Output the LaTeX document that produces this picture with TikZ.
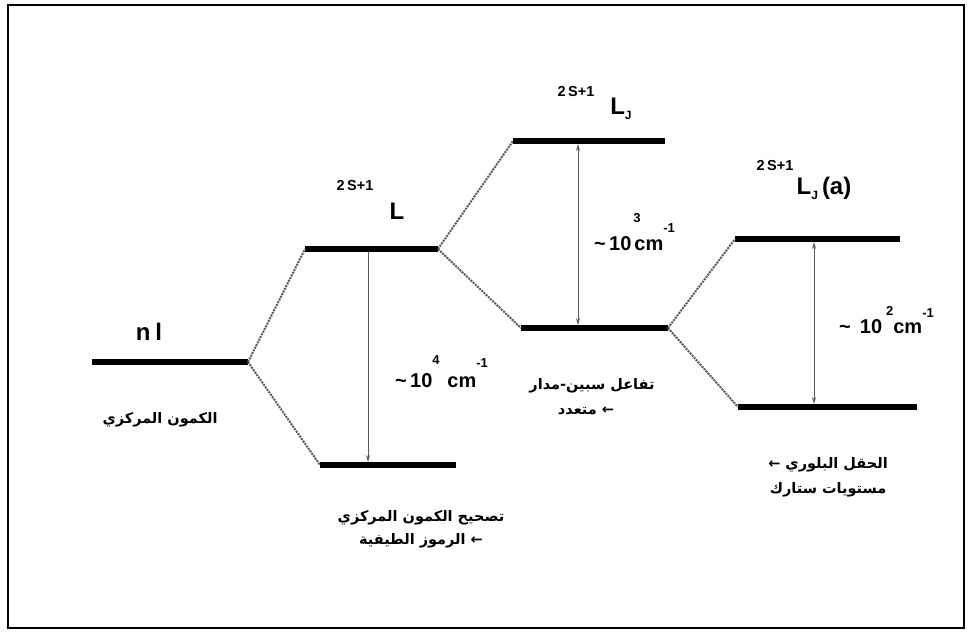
\documentclass[tikz,border=0pt]{standalone}
\usepackage{fontspec}
\setmainfont{Liberation Sans}
\newfontfamily\arabicfont[Script=Arabic]{DejaVu Sans}
\TeXXeTstate=1
\usetikzlibrary{arrows.meta}

\tikzset{
  level/.style={line width=5.5pt, line cap=butt},
  link/.style={densely dotted, line width=2pt, black!65},
  gaparrow/.style={line width=0.9pt, black!65, -{Stealth[length=7pt,width=4pt]}},
  gapboth/.style={line width=0.9pt, black!65, {Stealth[length=7pt,width=4pt]}-{Stealth[length=7pt,width=4pt]}},
  arlabel/.style={font=\arabicfont\bfseries\fontsize{14.5}{17}\selectfont, inner sep=0pt},
  mult/.style={font=\bfseries\fontsize{14.5}{16}\selectfont, inner sep=0pt},
  term/.style={font=\bfseries\fontsize{24}{26}\selectfont, inner sep=0pt},
  gaplabel/.style={font=\bfseries\fontsize{20}{22}\selectfont, inner sep=0pt, anchor=base west},
}
\newcommand\supfig[2]{\raisebox{#1}{\fontsize{13}{14}\selectfont #2}}
\newcommand\subJ{\raisebox{-5pt}{\fontsize{12}{13}\selectfont J}}

\begin{document}
\begin{tikzpicture}[x=1pt,y=-1pt]
  \useasboundingbox (0,0) rectangle (970,633);
  % outer frame
  \draw[line width=1.2pt] (8,5) rectangle (964,628);

  % energy levels
  \coordinate (nlA) at (92,362);   \coordinate (nlB) at (248,362);
  \coordinate (LA)  at (305,249);  \coordinate (LB)  at (438,249);
  \coordinate (CA)  at (320,465);  \coordinate (CB)  at (456,465);
  \coordinate (JuA) at (513,141);  \coordinate (JuB) at (665,141);
  \coordinate (JlA) at (521,328);  \coordinate (JlB) at (668,328);
  \coordinate (SuA) at (735,239);  \coordinate (SuB) at (900,239);
  \coordinate (SlA) at (738,407);  \coordinate (SlB) at (917,407);

  \foreach \a/\b in {nlA/nlB, LA/LB, CA/CB, JuA/JuB, JlA/JlB, SuA/SuB, SlA/SlB}
    \draw[level] (\a) -- (\b);

  % dotted correlation lines
  \draw[link] (nlB) -- (LA);
  \draw[link] (nlB) -- (CA);
  \draw[link] (LB) -- (JuA);
  \draw[link] (LB) -- (JlA);
  \draw[link] (JlB) -- (SuA);
  \draw[link] (JlB) -- (SlA);

  % splitting arrows
  \coordinate (g1a) at (368,252); \coordinate (g1b) at (368,462);
  \coordinate (g2a) at (578,144); \coordinate (g2b) at (578,325);
  \coordinate (g3a) at (814,242); \coordinate (g3b) at (814,404);
  \draw[gaparrow] (g1a) -- (g1b);
  \draw[gapboth] (g2a) -- (g2b);
  \draw[gapboth] (g3a) -- (g3b);

  % term symbols
  \node[term] (nl) at (149,332) {n\hspace{5pt}l};
  \node[mult] (m1) at (355,186) {2\,S+1};
  \node[term] (t1) at (397,211) {L};
  \node[mult] (m2) at (576,92) {2\,S+1};
  \node[term] (t2) at (621,109) {L\subJ};
  \node[mult] (m3) at (775,166) {2\,S+1};
  \node[term] (t3) at (824,188) {L\subJ\,(a)};

  % gap sizes
  \node[gaplabel] (e1) at (395,387) {\char"007E\,10\rlap{\supfig{23pt}{4}}\hspace{15pt}cm\supfig{20pt}{-1}};
  \node[gaplabel] (e2) at (594,250) {\char"007E\,10\rlap{\hspace{2pt}\supfig{28pt}{3}}\hspace{3pt}cm\supfig{18pt}{-1}};
  \node[gaplabel] (e3) at (839,333) {\char"007E\hspace{9pt}10\hspace{4pt}\supfig{18pt}{2}cm\supfig{16pt}{-1}};

  % Arabic captions
  \node[arlabel] (c1) at (160,420) {\beginR الكمون المركزي\endR};
  \node[arlabel] (c2) at (421,518) {\beginR تصحيح الكمون المركزي\endR};
  \node[arlabel] (c3) at (421,541) {\beginR الرموز الطيفية\endR\ ←};
  \node[arlabel] (c4) at (592,386) {\beginR تفاعل سبين-مدار\endR};
  \node[arlabel] (c5) at (586,411) {\beginR متعدد\endR\ ←};
  \node[arlabel] (c6) at (828,465) {←\ \beginR الحقل البلوري\endR};
  \node[arlabel] (c7) at (828,490) {\beginR مستويات ستارك\endR};
\end{tikzpicture}
\end{document}
